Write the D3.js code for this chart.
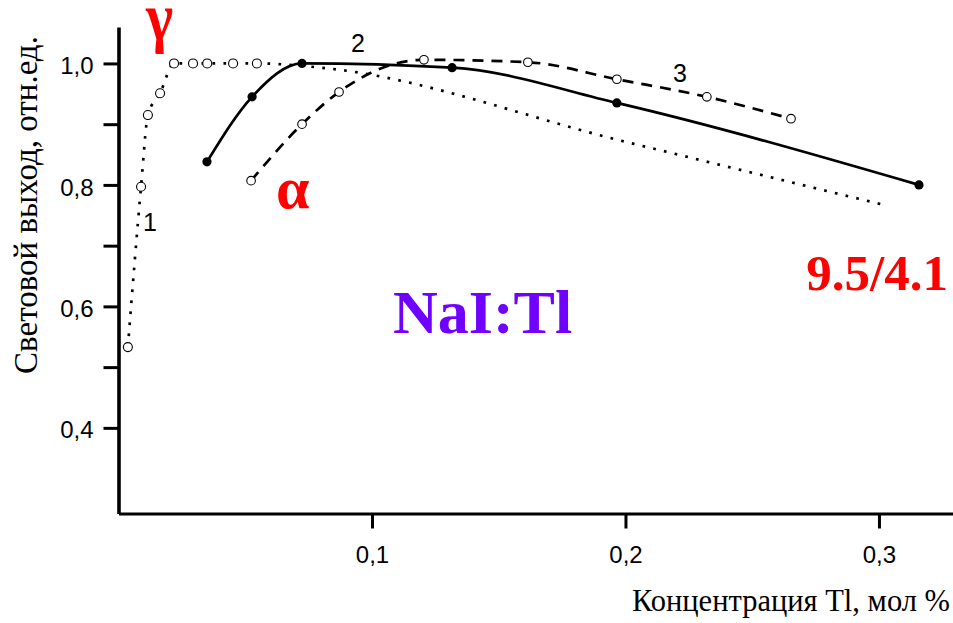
<!DOCTYPE html>
<html>
<head>
<meta charset="utf-8">
<script src="https://cdn.jsdelivr.net/npm/d3@7"></script>
<style>
  html, body { margin: 0; padding: 0; background: #fff; }
  svg { display: block; }
  .tick text { font-family: "Liberation Sans", Arial, sans-serif; }
</style>
</head>
<body>
<svg id="chart" width="953" height="623"></svg>
<script>
// Light yield of NaI:Tl vs. thallium concentration
// Curve 1 (dotted, open circles)
const curve1X = [0.0037, 0.0089, 0.0116, 0.0164, 0.0219, 0.0294, 0.0350, 0.0452, 0.0546];
const curve1Y = [0.533, 0.797, 0.915, 0.951, 1.000, 1.000, 1.000, 1.000, 1.000];
// Unmarked continuation of curve 1
const curve1TailX = [0.080, 0.200, 0.301];
const curve1TailY = [0.993, 0.871, 0.768];
// Curve 2 (solid, filled dots)
const curve2X = [0.0349, 0.0527, 0.0724, 0.1316, 0.1966, 0.3158];
const curve2Y = [0.838, 0.945, 1.000, 0.993, 0.935, 0.800];
// Curve 3 (dashed, open circles)
const curve3X = [0.0523, 0.0724, 0.0870, 0.1205, 0.1615, 0.1966, 0.2321, 0.2653];
const curve3Y = [0.807, 0.900, 0.953, 1.006, 1.002, 0.974, 0.945, 0.909];

const xTicks = [0.1, 0.2, 0.3];
const xTickLabels = ["0,1", "0,2", "0,3"];
const yTicks = [0.4, 0.5, 0.6, 0.7, 0.8, 0.9, 1.0];
const yTickLabels = ["0,4", "", "0,6", "", "0,8", "", "1,0"];

const svg = d3.select("#chart");

const x = d3.scaleLinear().domain([0, 0.33]).range([118.5, 955]);
const y = d3.scaleLinear().domain([0.259, 1.06]).range([513.5, 27]);

const zip = (xs, ys) => xs.map((v, i) => ({ x: v, y: ys[i] }));
const pts1 = zip(curve1X, curve1Y);
const pts1Line = pts1.concat(zip(curve1TailX, curve1TailY));
const pts2 = zip(curve2X, curve2Y);
const pts3 = zip(curve3X, curve3Y);

// Axes
const yAxis = d3.axisLeft(y)
  .tickValues(yTicks)
  .tickSize(15)
  .tickSizeOuter(0)
  .tickPadding(10)
  .tickFormat((d, i) => yTickLabels[i]);
const yG = svg.append("g").attr("transform", `translate(${x(0)},0)`).call(yAxis);
yG.select(".domain").attr("stroke-width", 3.6);
yG.selectAll(".tick line").attr("stroke-width", 3);
yG.selectAll(".tick text").attr("font-size", 24).attr("dy", "0.42em").attr("fill", "#000");

const xAxis = d3.axisBottom(x)
  .tickValues(xTicks)
  .tickSize(15)
  .tickSizeOuter(0)
  .tickPadding(17)
  .tickFormat((d, i) => xTickLabels[i]);
const xG = svg.append("g").attr("transform", `translate(0,${y.range()[0]})`).call(xAxis);
xG.select(".domain").attr("stroke-width", 3);
xG.selectAll(".tick line").attr("stroke-width", 3);
xG.selectAll(".tick text").attr("font-size", 24).attr("fill", "#000");

// Axis titles
const serif = "'Liberation Serif', 'Times New Roman', serif";
svg.append("text")
  .attr("transform", "translate(37,205) rotate(-90)")
  .attr("text-anchor", "middle")
  .attr("font-family", serif)
  .attr("font-size", 33)
  .text("Световой выход, отн.ед.");

svg.append("text")
  .attr("x", 950).attr("y", 611)
  .attr("text-anchor", "end")
  .attr("font-family", serif)
  .attr("font-size", 30.5)
  .text("Концентрация Tl, мол %");

// Curves
const line = d3.line().x(d => x(d.x)).y(d => y(d.y)).curve(d3.curveMonotoneX);

svg.append("path").datum(pts1Line)
  .attr("d", line).attr("fill", "none").attr("stroke", "#000")
  .attr("stroke-width", 2.7).attr("stroke-dasharray", "2.7,8.3");

svg.append("path").datum(pts3)
  .attr("d", line).attr("fill", "none").attr("stroke", "#000")
  .attr("stroke-width", 2.7).attr("stroke-dasharray", "11,8");

svg.append("path").datum(pts2)
  .attr("d", line).attr("fill", "none").attr("stroke", "#000")
  .attr("stroke-width", 2.7);

// Markers
svg.append("g").selectAll("circle").data(pts1).join("circle")
  .attr("cx", d => x(d.x)).attr("cy", d => y(d.y)).attr("r", 4.5)
  .attr("fill", "#fff").attr("stroke", "#000").attr("stroke-width", 1.1);

svg.append("g").selectAll("circle").data(pts3).join("circle")
  .attr("cx", d => x(d.x)).attr("cy", d => y(d.y)).attr("r", 4.3)
  .attr("fill", "#fff").attr("stroke", "#000").attr("stroke-width", 1.1);

svg.append("g").selectAll("circle").data(pts2).join("circle")
  .attr("cx", d => x(d.x)).attr("cy", d => y(d.y)).attr("r", 4.6)
  .attr("fill", "#000");

// Curve numbers
const numFont = "'Liberation Sans', Arial, sans-serif";
[["1", 150, 231], ["2", 358, 52], ["3", 680, 82]].forEach(([t, tx, ty]) => {
  svg.append("text").attr("x", tx).attr("y", ty)
    .attr("text-anchor", "middle").attr("font-family", numFont)
    .attr("font-size", 25).text(t);
});

// Annotations
svg.append("text")
  .attr("transform", "translate(146,40) scale(1,1.15)")
  .attr("font-family", serif).attr("font-weight", "bold")
  .attr("font-size", 58).attr("fill", "#ff0000").text("γ");
svg.append("text").attr("x", 276).attr("y", 208)
  .attr("font-family", serif).attr("font-weight", "bold")
  .attr("font-size", 60).attr("fill", "#ff0000").text("α");
svg.append("text").attr("x", 393).attr("y", 333)
  .attr("font-family", serif).attr("font-weight", "bold")
  .attr("font-size", 62).attr("fill", "#7000ff").text("NaI:Tl");
svg.append("text").attr("x", 948).attr("y", 290)
  .attr("text-anchor", "end")
  .attr("font-family", serif).attr("font-weight", "bold")
  .attr("font-size", 51).attr("fill", "#ff0000").text("9.5/4.1");
</script>
</body>
</html>
